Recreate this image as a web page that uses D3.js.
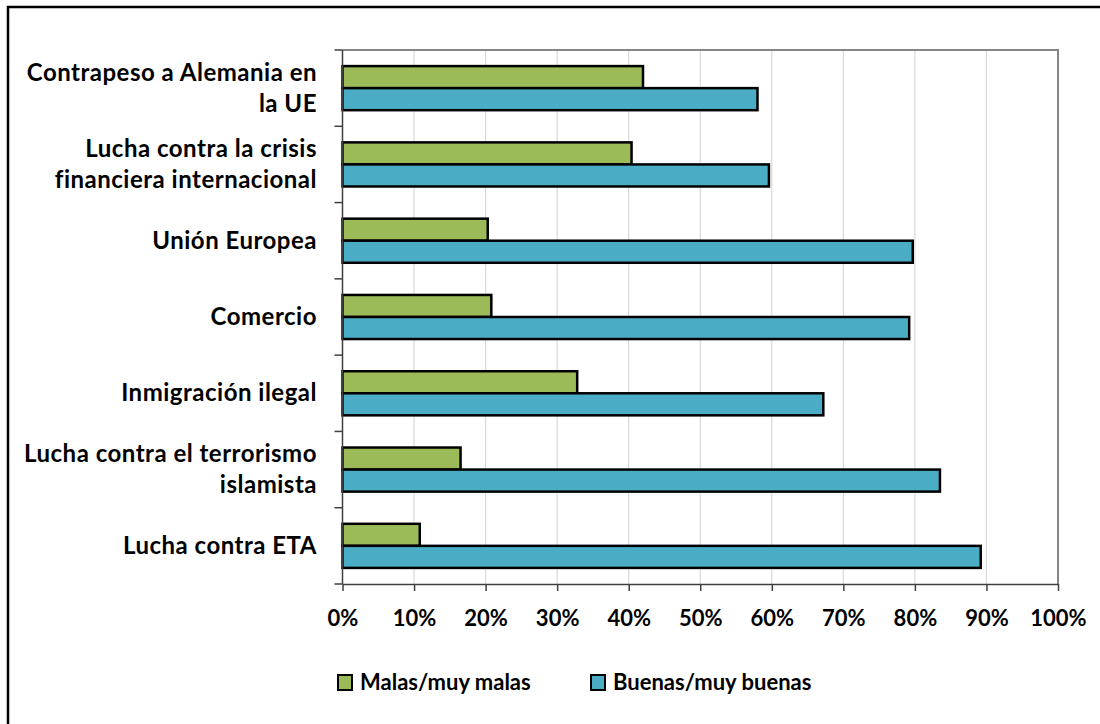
<!DOCTYPE html>
<html>
<head>
<meta charset="utf-8">
<script src="https://cdn.jsdelivr.net/npm/d3@7"></script>
<style>
  body { margin: 0; background: #fff; }
  text { font-family: Lato, "Open Sans", sans-serif; font-weight: bold; fill: #000; }
</style>
</head>
<body>
<div class="chart"></div>
<script>
var svgWidth = 1100;
var svgHeight = 724;

// categories top to bottom, each split into label lines
var categories = [
    ["Contrapeso a Alemania en", "la UE"],
    ["Lucha contra la crisis", "financiera internacional"],
    ["Unión Europea"],
    ["Comercio"],
    ["Inmigración ilegal"],
    ["Lucha contra el terrorismo", "islamista"],
    ["Lucha contra ETA"]
];
var seriesNames = ["Malas/muy malas", "Buenas/muy buenas"];
var malas = [42.0, 40.4, 20.3, 20.8, 32.8, 16.5, 10.8];
var buenas = [58.0, 59.6, 79.7, 79.2, 67.2, 83.5, 89.2];
var xTicks = [0, 10, 20, 30, 40, 50, 60, 70, 80, 90, 100];
var colors = ["#9BBB59", "#4BACC6"];

var plot = { left: 342.5, right: 1058, top: 50, bottom: 584 };

var svg = d3.select(".chart")
    .append("svg")
    .attr("width", svgWidth)
    .attr("height", svgHeight);

// outer frame (only top/left visible in the picture)
svg.append("rect")
    .attr("x", 8).attr("y", 7)
    .attr("width", 1200).attr("height", 800)
    .attr("fill", "none")
    .attr("stroke", "#000")
    .attr("stroke-width", 2.5);

var x = d3.scaleLinear().domain([0, 100]).range([plot.left, plot.right]);
var y = d3.scaleBand()
    .domain(d3.range(categories.length))
    .range([plot.top, plot.bottom]);
var ySub = d3.scaleBand()
    .domain([0, 1])
    .range([0, y.bandwidth()])
    .paddingOuter(0.73);

// gridlines
svg.append("g")
    .selectAll("line")
    .data(xTicks.slice(1, -1))
    .enter()
    .append("line")
    .attr("x1", d => x(d)).attr("x2", d => x(d))
    .attr("y1", plot.top).attr("y2", plot.bottom)
    .attr("stroke", "#d9d9d9")
    .attr("stroke-width", 1.2);

// plot frame top/right
svg.append("path")
    .attr("d", `M${plot.left},${plot.top}H${plot.right}V${plot.bottom}`)
    .attr("fill", "none")
    .attr("stroke", "#868686")
    .attr("stroke-width", 2);

// bars
var rows = categories.map((c, i) => ({ i: i, vals: [malas[i], buenas[i]] }));
var groups = svg.selectAll(".grp")
    .data(rows)
    .enter()
    .append("g")
    .attr("transform", d => `translate(0, ${y(d.i)})`);

groups.selectAll("rect")
    .data(d => d.vals.map((v, s) => ({ v: v, s: s })))
    .enter()
    .append("rect")
    .attr("x", x(0))
    .attr("y", d => ySub(d.s))
    .attr("width", d => x(d.v) - x(0))
    .attr("height", ySub.bandwidth())
    .attr("fill", d => colors[d.s])
    .attr("stroke", "#000")
    .attr("stroke-width", 2.5);

// x axis
var bottomAxis = d3.axisBottom(x)
    .tickValues(xTicks)
    .tickFormat(d => d + "%")
    .tickSizeInner(7)
    .tickSizeOuter(0)
    .tickPadding(19);

var xAxis = svg.append("g")
    .attr("transform", `translate(0, ${plot.bottom})`)
    .call(bottomAxis);
xAxis.select(".domain").attr("stroke", "#404040").attr("stroke-width", 1.5);
xAxis.selectAll(".tick line").attr("stroke", "#404040").attr("stroke-width", 1.5);
xAxis.selectAll("text")
    .style("font-size", "22px")
    .attr("fill", "#000");

// y axis line + ticks at group boundaries
var yEdges = d3.range(categories.length + 1).map(i => plot.top + i * y.step());
svg.append("line")
    .attr("x1", plot.left).attr("x2", plot.left)
    .attr("y1", plot.top).attr("y2", plot.bottom)
    .attr("stroke", "#404040").attr("stroke-width", 1.5);
svg.append("g")
    .selectAll("line")
    .data(yEdges)
    .enter()
    .append("line")
    .attr("x1", plot.left - 8).attr("x2", plot.left)
    .attr("y1", d => d).attr("y2", d => d)
    .attr("stroke", "#404040").attr("stroke-width", 1.5);

// category labels
var lineH = 31;
var labels = svg.append("g")
    .selectAll("text")
    .data(categories)
    .enter()
    .append("text")
    .attr("text-anchor", "end")
    .style("font-size", "24px")
    .style("letter-spacing", "0.5px");

labels.each(function(lines, i) {
    var cy = y(i) + y.bandwidth() / 2;
    var n = lines.length;
    d3.select(this).selectAll("tspan")
        .data(lines)
        .enter()
        .append("tspan")
        .attr("x", 317)
        .attr("y", (d, k) => cy + (k - (n - 1) / 2) * lineH + 8)
        .text(d => d);
});

// legend
var legendX = [338, 591];
var legend = svg.append("g")
    .selectAll("g")
    .data(seriesNames)
    .enter()
    .append("g")
    .attr("transform", (d, i) => `translate(${legendX[i]}, 675)`);

legend.append("rect")
    .attr("width", 14).attr("height", 15)
    .attr("fill", (d, i) => colors[i])
    .attr("stroke", "#000")
    .attr("stroke-width", 2);

legend.append("text")
    .attr("x", 22)
    .attr("y", 15)
    .style("font-size", "22px")
    .text(d => d);
</script>
</body>
</html>
